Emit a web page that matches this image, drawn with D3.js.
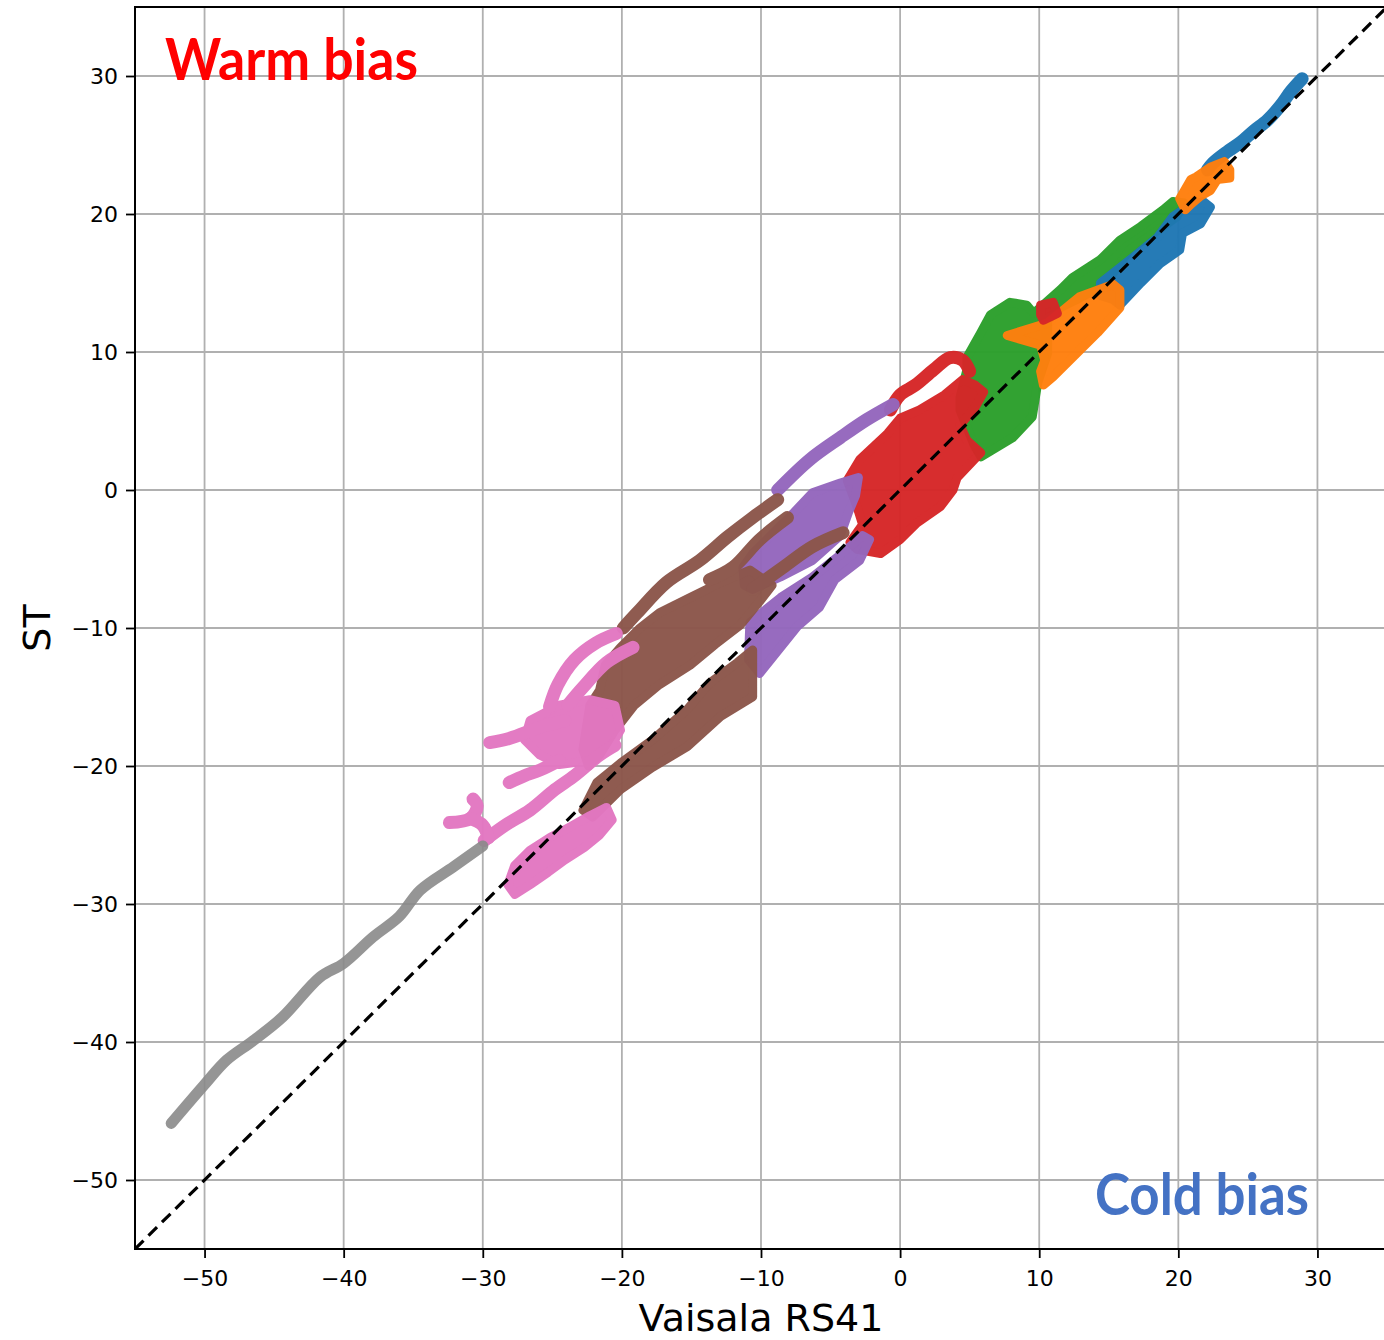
<!DOCTYPE html>
<html>
<head>
<meta charset="utf-8">
<script src="https://cdn.jsdelivr.net/npm/d3@7"></script>
<style>
  html, body { margin: 0; padding: 0; background: #fff; overflow: hidden; }
  svg { display: block; }
</style>
</head>
<body>
<svg id="chart" width="1384" height="1340"></svg>
<script>
// ---------------- DATA (in °C) ----------------
const xTicks = [-50, -40, -30, -20, -10, 0, 10, 20, 30];
const yTicks = [-50, -40, -30, -20, -10, 0, 10, 20, 30];
const seriesNames = ["blue", "orange", "green", "red", "purple", "brown", "pink", "gray"];

// thin trajectories (RS41, ST) per series
const blueStrands = [
  [[28.9, 29.8], [28.1, 28.9], [27.3, 27.8], [26.4, 26.8], [25.4, 26.0], [24.5, 25.2], [23.5, 24.5], [22.5, 23.7], [22.1, 23.2]]
];
const bluePatches = [
  [[14.4, 15.0], [16.8, 16.9], [18.5, 18.3], [19.6, 19.8], [20.6, 20.5], [21.8, 20.9], [22.3, 20.5], [21.6, 19.3],
   [20.3, 18.6], [20.1, 17.4], [18.7, 16.4], [17.3, 15.0], [15.8, 13.4], [15.3, 13.8], [14.4, 14.1]]
];
const orangeStrands = [];
const orangePatches = [
  [[20.1, 21.1], [20.9, 22.5], [21.3, 22.7], [22.3, 23.4], [23.3, 23.8], [23.7, 23.2], [23.7, 22.6], [22.8, 22.5],
   [22.3, 21.7], [21.6, 21.3], [20.9, 20.7], [20.5, 20.3]],
  [[7.7, 11.2], [10.6, 12.1], [12.9, 14.0], [15.3, 14.9], [15.8, 14.5], [15.8, 13.2], [14.2, 11.4], [12.7, 9.9],
   [11.0, 8.2], [10.3, 7.6], [10.1, 8.6], [10.4, 9.4], [10.1, 10.5]]
];
const greenStrands = [];
const greenPatches = [
  [[6.5, 12.7], [7.9, 13.6], [9.1, 13.4], [9.6, 12.8], [11.5, 14.5], [12.4, 15.4], [14.4, 16.7], [15.8, 18.1],
   [17.3, 19.1], [18.9, 20.3], [19.6, 20.9], [20.4, 20.8], [19.9, 19.8], [18.5, 18.8], [16.5, 17.4], [15.1, 15.4],
   [14.4, 14.7], [12.7, 13.8], [11.5, 13.2], [10.6, 12.3], [10.6, 9.9], [9.9, 7.8], [9.5, 5.3], [8.1, 3.8],
   [5.8, 2.4], [5.3, 3.3], [4.3, 5.8], [4.3, 6.7], [4.8, 8.7], [4.8, 9.6], [5.8, 11.4]]
];
const redStrands = [
  [[-0.7, 5.8], [0.0, 6.9], [1.1, 7.6], [2.4, 8.7], [3.6, 9.6], [4.5, 9.4], [5.0, 8.6]]
];
const redPatches = [
  [[-3.1, -1.2], [-3.8, 0.7], [-2.9, 2.2], [-0.9, 4.1], [0.0, 5.2], [1.4, 5.8], [3.2, 6.9], [4.5, 8.0], [5.4, 7.6],
   [6.0, 7.1], [5.4, 6.0], [4.3, 4.7], [4.8, 3.6], [5.8, 2.7], [4.1, 0.9], [3.8, 0.0], [2.9, -1.2], [1.2, -2.4],
   [0.0, -3.6], [-1.4, -4.6], [-3.1, -4.3], [-3.6, -3.8], [-2.7, -2.5]],
  [[10.1, 13.4], [11.0, 13.6], [11.3, 12.8], [10.3, 12.3], [10.1, 12.7]]
];
const purpleStrands = [
  [[-0.5, 6.2], [-2.4, 5.1], [-4.3, 3.8], [-6.5, 2.2], [-8.8, 0.0]]
];
const purplePatches = [
  [[-11.3, -5.6], [-10.6, -4.6], [-9.6, -3.6], [-7.7, -1.7], [-6.3, -0.2], [-4.3, 0.5], [-3.0, 0.9], [-3.2, -0.4],
   [-3.7, -1.6], [-4.3, -3.3], [-6.3, -5.1], [-8.6, -6.3], [-10.6, -7.2], [-11.2, -6.9]],
  [[-10.8, -9.6], [-8.6, -7.8], [-6.3, -6.3], [-4.3, -4.7], [-2.7, -3.3], [-2.2, -3.6], [-2.9, -5.1], [-4.7, -6.5],
   [-5.8, -8.5], [-7.4, -9.9], [-10.1, -13.3], [-10.9, -12.3]]
];
const brownStrands = [
  [[-8.8, -0.7], [-10.6, -2.0], [-12.4, -3.4], [-14.4, -5.1], [-16.8, -6.7], [-18.9, -8.9], [-19.9, -10.0]],
  [[-8.1, -2.0], [-10.1, -3.6], [-12.0, -5.6], [-13.7, -6.5]],
  [[-4.1, -3.1], [-6.3, -4.1], [-8.4, -5.6], [-10.6, -7.2]]
];
const brownPatches = [
  [[-10.8, -5.8], [-12.9, -6.7], [-15.1, -7.8], [-17.3, -8.9], [-18.7, -10.0], [-20.1, -11.4], [-21.2, -12.7],
   [-21.6, -14.5], [-22.3, -15.6], [-22.8, -18.8], [-22.4, -20.0], [-21.6, -19.2], [-20.5, -17.4], [-19.1, -15.6],
   [-17.3, -14.1], [-15.1, -12.7], [-13.3, -11.2], [-11.5, -9.8], [-10.2, -8.2], [-9.2, -6.9]],
  [[-10.6, -11.6], [-10.6, -15.0], [-12.9, -16.4], [-15.3, -18.6], [-17.8, -20.1], [-20.1, -21.7], [-22.1, -23.7],
   [-22.8, -23.2], [-21.8, -21.2], [-20.1, -19.8], [-17.8, -18.1], [-15.3, -15.9], [-13.7, -14.0], [-11.7, -12.5]]
];
const pinkStrands = [
  [[-20.4, -10.4], [-21.9, -11.1], [-23.4, -12.3], [-24.6, -14.1], [-25.2, -15.7]],
  [[-19.2, -11.4], [-21.1, -12.5], [-22.8, -14.3], [-23.9, -15.6]],
  [[-29.5, -18.3], [-28.1, -18.0], [-25.9, -17.2], [-24.1, -16.7]],
  [[-28.1, -21.2], [-27.0, -20.7], [-25.9, -20.3], [-24.5, -19.6]],
  [[-29.9, -25.4], [-28.4, -24.3], [-26.6, -23.2], [-24.8, -21.7], [-23.4, -20.7], [-21.6, -19.2], [-20.5, -18.5]],
  [[-32.4, -24.1], [-30.9, -23.8], [-30.4, -22.9], [-30.7, -22.4]],
  [[-30.9, -23.8], [-30.0, -24.3], [-29.6, -25.2]]
];
const pinkPatches = [
  [[-26.6, -16.7], [-24.5, -15.6], [-22.3, -15.2], [-20.5, -15.6], [-20.1, -17.4], [-20.9, -18.8], [-22.3, -19.6],
   [-24.5, -19.9], [-25.9, -19.2], [-27.0, -18.1]],
  [[-28.2, -28.6], [-27.7, -27.2], [-26.6, -26.1], [-25.2, -25.2], [-23.7, -24.4], [-22.3, -23.6], [-21.1, -23.0],
   [-20.7, -23.9], [-21.6, -25.0], [-22.7, -25.9], [-24.1, -26.8], [-25.3, -27.7], [-26.6, -28.6], [-27.7, -29.3]]
];
const grayStrands = [
  [[-52.4, -45.9], [-50.1, -43.2], [-48.4, -41.3], [-46.5, -39.9], [-44.4, -38.2], [-41.7, -35.3], [-40.0, -34.3],
   [-37.9, -32.4], [-36.0, -30.9], [-34.5, -29.0], [-32.1, -27.3], [-30.0, -25.8]]
];
const grayPatches = [];
const identityLine = [[-55, -55], [35, 35]];

// ---------------- STYLE ----------------
const colors = {
  blue: "#1f77b4", orange: "#ff7f0e", green: "#2ca02c", red: "#d62728",
  purple: "#9467bd", brown: "#8c564b", pink: "#e377c2", gray: "#8a8a8a"
};
const drawOrder = ["green", "blue", "orange", "red", "purple", "brown", "pink", "gray"];
const seriesData = {
  blue: [blueStrands, bluePatches], orange: [orangeStrands, orangePatches],
  green: [greenStrands, greenPatches], red: [redStrands, redPatches],
  purple: [purpleStrands, purplePatches], brown: [brownStrands, brownPatches],
  pink: [pinkStrands, pinkPatches], gray: [grayStrands, grayPatches]
};

const svg = d3.select("#chart");
const L = 135, T = 7, R = 1387, B = 1249;
const x = d3.scaleLinear().domain([-55, 35]).range([L, R]);
const y = d3.scaleLinear().domain([-55, 35]).range([B, T]);
const fmt = d => d < 0 ? "\u2212" + Math.abs(d) : String(d);

svg.append("defs").append("clipPath").attr("id", "clip")
  .append("rect").attr("x", L).attr("y", T).attr("width", R - L).attr("height", B - T);

// grid
const grid = svg.append("g").attr("clip-path", "url(#clip)");
grid.selectAll("line.gx").data(xTicks).join("line")
  .attr("x1", d => x(d)).attr("x2", d => x(d)).attr("y1", T).attr("y2", B)
  .attr("stroke", "#b0b0b0").attr("stroke-width", 1.8);
grid.selectAll("line.gy").data(yTicks).join("line")
  .attr("y1", d => y(d)).attr("y2", d => y(d)).attr("x1", L).attr("x2", R)
  .attr("stroke", "#b0b0b0").attr("stroke-width", 1.8);

// data
const plot = svg.append("g").attr("clip-path", "url(#clip)");
const line = d3.line().x(d => x(d[0])).y(d => y(d[1])).curve(d3.curveCatmullRom.alpha(0.5));
const poly = d3.line().x(d => x(d[0])).y(d => y(d[1])).curve(d3.curveLinearClosed);
drawOrder.forEach(name => {
  const [strands, patches] = seriesData[name];
  const g = plot.append("g").attr("opacity", name === "gray" ? 0.9 : 0.97);
  g.selectAll("path.p").data(patches).join("path")
    .attr("d", poly).attr("fill", colors[name]).attr("stroke", colors[name])
    .attr("stroke-width", 9).attr("stroke-linejoin", "round");
  g.selectAll("path.s").data(strands).join("path")
    .attr("d", line).attr("fill", "none").attr("stroke", colors[name])
    .attr("stroke-width", name === "gray" ? 11 : 13)
    .attr("stroke-linecap", "round").attr("stroke-linejoin", "round");
});

// 1:1 line
plot.append("path").datum(identityLine)
  .attr("d", d3.line().x(d => x(d[0])).y(d => y(d[1])))
  .attr("stroke", "#000").attr("stroke-width", 3.2).attr("stroke-dasharray", "12,7").attr("fill", "none");

// frame
svg.append("rect").attr("x", L).attr("y", T).attr("width", R - L).attr("height", B - T)
  .attr("fill", "none").attr("stroke", "#000").attr("stroke-width", 2);

// axes
const xAxis = svg.append("g").attr("transform", `translate(0,${B})`)
  .call(d3.axisBottom(x).tickValues(xTicks).tickFormat(fmt).tickSize(9).tickPadding(12));
const yAxis = svg.append("g").attr("transform", `translate(${L},0)`)
  .call(d3.axisLeft(y).tickValues(yTicks).tickFormat(fmt).tickSize(9).tickPadding(8));
[xAxis, yAxis].forEach(a => {
  a.select(".domain").remove();
  a.selectAll(".tick line").attr("stroke", "#000").attr("stroke-width", 1.8);
  a.selectAll(".tick text").attr("font-family", "DejaVu Sans").attr("font-size", 22).attr("fill", "#000");
});

// axis titles
svg.append("text").attr("x", (L + R) / 2).attr("y", 1331).attr("text-anchor", "middle")
  .attr("font-family", "DejaVu Sans").attr("font-size", 38).attr("fill", "#000").text("Vaisala RS41");
svg.append("text").attr("transform", `translate(50,${(T + B) / 2}) rotate(-90)`).attr("text-anchor", "middle")
  .attr("font-family", "DejaVu Sans").attr("font-size", 38).attr("fill", "#000").text("ST");

// annotations
svg.append("text").attr("x", 165).attr("y", 80).attr("font-family", "Lato, 'Open Sans', sans-serif")
  .attr("font-weight", "bold").attr("font-size", 57).attr("fill", "#ff0000")
  .attr("textLength", 253).attr("lengthAdjust", "spacingAndGlyphs").text("Warm bias");
svg.append("text").attr("x", 1095).attr("y", 1215).attr("font-family", "Lato, 'Open Sans', sans-serif")
  .attr("font-weight", "bold").attr("font-size", 57).attr("fill", "#4472c4")
  .attr("textLength", 214).attr("lengthAdjust", "spacingAndGlyphs").text("Cold bias");
</script>
</body>
</html>
